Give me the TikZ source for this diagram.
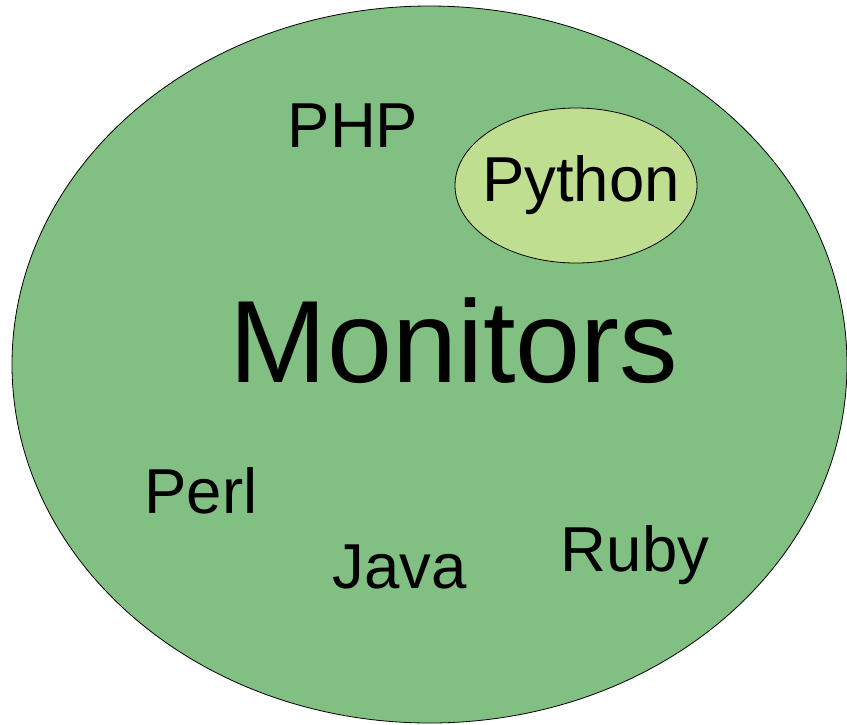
\documentclass[tikz,border=0pt]{standalone}
\usepackage{fontspec}
\setmainfont{Liberation Sans}
\usetikzlibrary{shapes.geometric}
\definecolor{outergreen}{RGB}{129,192,130}
\definecolor{innergreen}{RGB}{192,222,143}
\tikzset{
  blob/.style={ellipse, draw=black, line width=0.8pt, inner sep=0pt},
  lang/.style={anchor=base, inner sep=0pt, font=\fontsize{63.5}{63.5}\selectfont},
  big/.style={anchor=base, inner sep=0pt, font=\fontsize{117}{117}\selectfont}
}
\begin{document}
\begin{tikzpicture}[x=1pt, y=-1pt]
\useasboundingbox (0,0) rectangle (847,724);
\node[blob, fill=outergreen, minimum width=835pt, minimum height=717pt] (outer) at (429.5,364.5) {};
\node[blob, fill=innergreen, minimum width=242pt, minimum height=155pt] (inner) at (576,185.5) {};
\node[lang] (php) at (353,147) {PHP};
\node[lang] (python) at (581,201) {Python};
\node[big] (monitors) at (454,382) {Monitors};
\node[lang] (perl) at (201,513) {Perl};
\node[lang] (java) at (400,588) {Java};
\node[lang] (ruby) at (635,571) {Ruby};
\end{tikzpicture}
\end{document}
